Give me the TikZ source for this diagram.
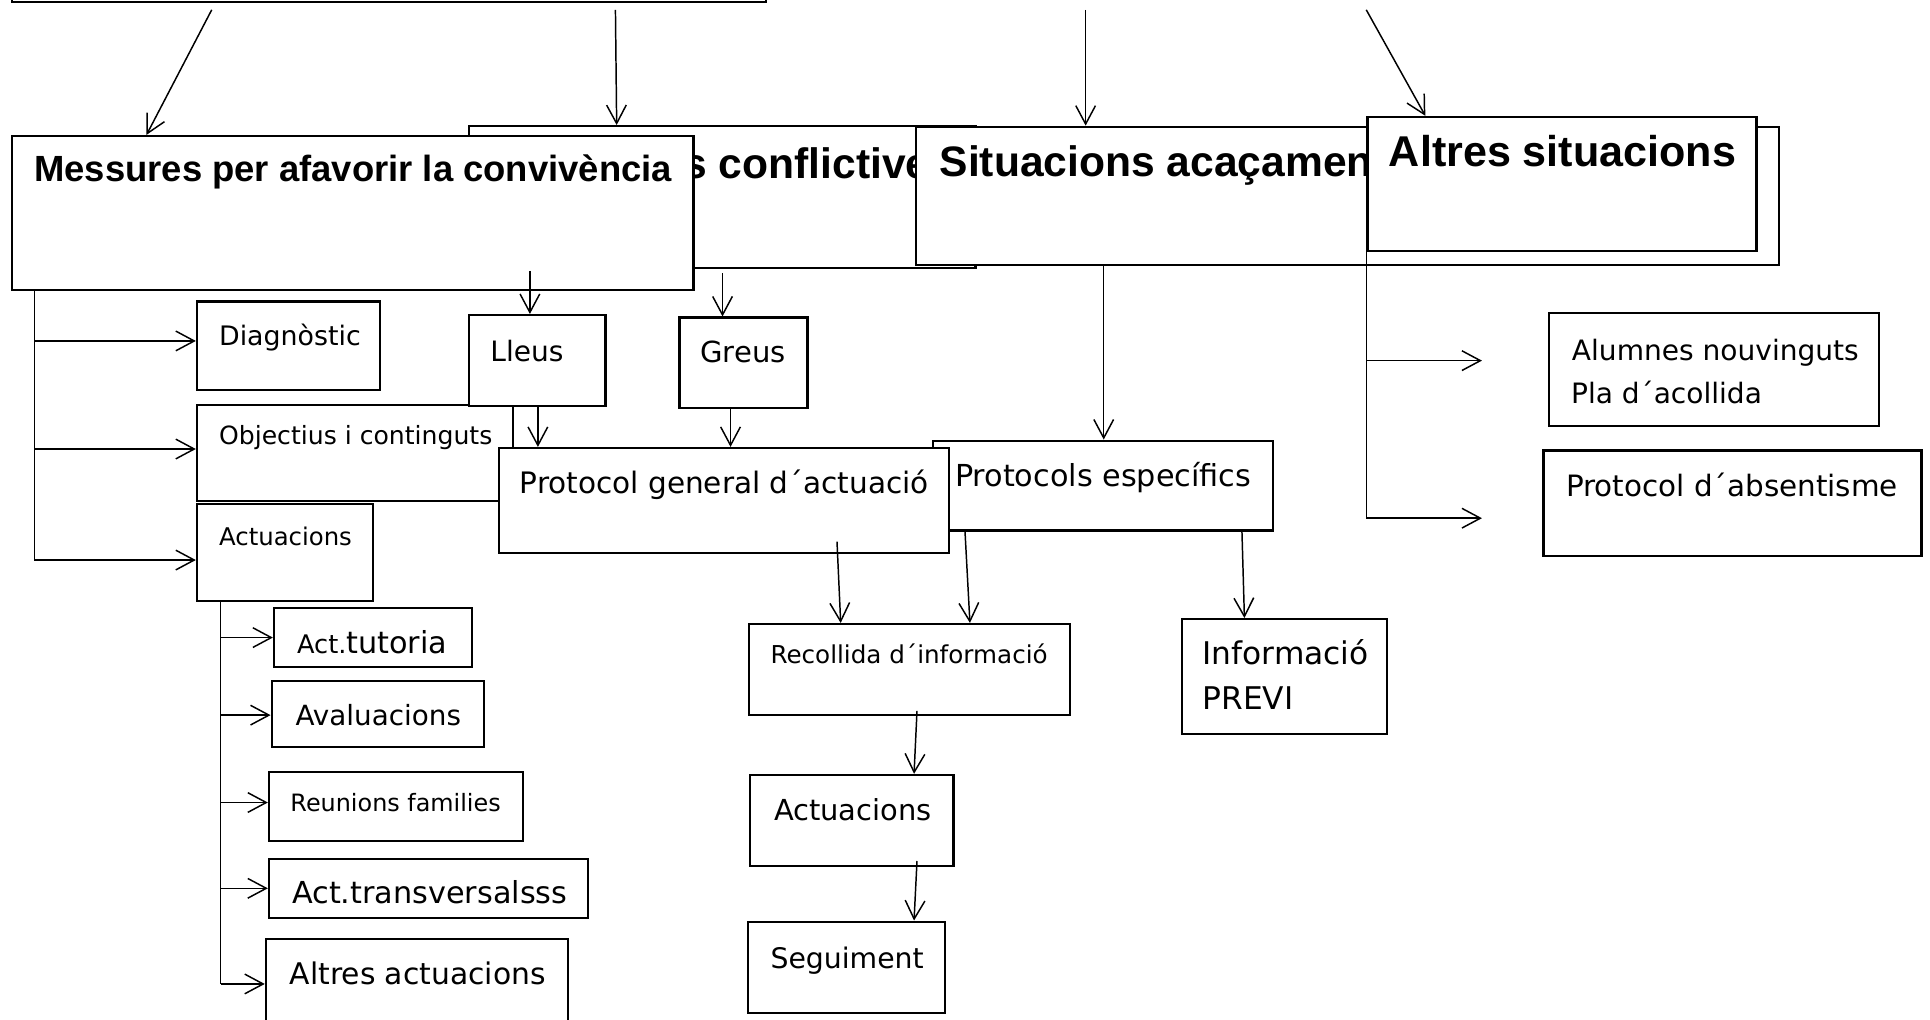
\documentclass[tikz,border=0pt]{standalone}
\usepackage{fontspec}
\setmainfont{DejaVu Sans}
\newfontfamily\hdfont{Liberation Sans}
\usetikzlibrary{arrows.meta,fit}

\tikzset{
	box/.style={draw, fill=white, line width=0.9pt, inner sep=0pt},
	txt/.style={anchor=base west, inner sep=0pt, font=\fontsize{#1}{#1}\selectfont},
	hd/.style={anchor=base west, inner sep=0pt, font=\hdfont\bfseries\fontsize{#1}{#1}\selectfont},
	lnk/.style={line width=0.6pt},
	>={Straight Barb[length=7.5pt,width=8pt]}
}

\begin{document}
\begin{tikzpicture}[x=0.5pt,y=-0.5pt]
			\useasboundingbox (0,0) rectangle (1568,828);
			\clip (0,0) rectangle (1568,828);
			\node[box, fit={(10,-60) (622,1.5)}] (top) {};
			\node[box, fit={(381,102.5) (792.5,218)}] (cnf) {};
			\node[hd=17.3] (cnf-t) at (554.8,145) {s conflictive};
			\node[box, fit={(744,103) (1445,215)}] (sit) {};
			\node[hd=17.3] (sit-t) at (763,143.5) {Situacions acaçament};
			\node[box, fit={(1111,95) (1427,204)}] (alt) {};
			\node[hd=17.5] (alt-t) at (1128,135.5) {Altres situacions};
			\node[box, fit={(9.5,110.5) (563.5,235.5)}] (msr) {};
			\node[hd=14.8] (msr-t) at (27.4,147.6) {Messures per afavorir la convivència};
			\node[box, fit={(160,245) (308.5,317)}] (diag) {};
			\node[txt=10.9] (diag-t) at (177.6,280.3) {Diagnòstic};
			\node[box, fit={(160,329) (417,407)}] (obj) {};
			\node[txt=10.2] (obj-t) at (177.6,361.5) {Objectius i continguts};
			\node[box, fit={(160,409.7) (303,488)}] (actl) {};
			\node[txt=9.9] (actl-t) at (177.6,442.8) {Actuacions};
			\node[box, fit={(381,256) (492,330)}] (lleus) {};
			\node[txt=11.4] (lleus-t) at (398,293.3) {Lleus};
			\node[box, fit={(552,258) (656,331.6)}] (greus) {};
			\node[txt=11.8] (greus-t) at (568.6,294.6) {Greus};
			\node[box, fit={(758,358) (1034,431)}] (pes) {};
			\node[txt=12.3] (pes-t) at (775.5,395.4) {Protocols específics};
			\node[box, fit={(405.5,364) (771,449)}] (pga) {};
			\node[txt=12] (pga-t) at (421.9,401) {Protocol general d´actuació};
			\node[box, fit={(1258.6,254.5) (1526.6,346)}] (alu) {};
			\node[txt=11.4] (alu-t1) at (1276.7,292.5) {Alumnes nouvinguts};
			\node[txt=11.4] (alu-t2) at (1276,328.2) {Pla d´acollida};
			\node[box, fit={(1254,366) (1561,451.7)}] (abs) {};
			\node[txt=11.95] (abs-t) at (1272,403.5) {Protocol d´absentisme};
			\node[box, fit={(608.5,507) (869,581)}] (rec) {};
			\node[txt=10] (rec-t) at (625.6,539.4) {Recollida d´informació};
			\node[box, fit={(960,503) (1127,596.3)}] (inf) {};
			\node[txt=12.7] (inf-t1) at (976.6,540.2) {Informació};
			\node[txt=12.7] (inf-t2) at (976.6,576.3) {PREVI};
			\node[box, fit={(609.6,629.6) (774.7,703.3)}] (acm) {};
			\node[txt=11.75] (acm-t) at (628.5,666.2) {Actuacions};
			\node[box, fit={(607.8,748.8) (768,823)}] (seg) {};
			\node[txt=11.5] (seg-t) at (625.6,786.7) {Seguiment};
			\node[box, fit={(222.6,494.2) (383.2,542.1)}] (tut) {};
			\node[txt=12.3] (tut-t) at (241,530.8) {{\fontsize{10.4}{10.4}\selectfont Act.}tutoria};
			\node[box, fit={(220.7,553) (393.2,607)}] (ava) {};
			\node[txt=11.3] (ava-t) at (239.7,589.8) {Avaluacions};
			\node[box, fit={(218.5,627) (424.6,683)}] (reu) {};
			\node[txt=9.7] (reu-t) at (235.6,658.9) {Reunions families};
			\node[box, fit={(218.5,698) (477.4,746)}] (trv) {};
			\node[txt=12.3] (trv-t) at (237,734.4) {Act.transversalsss};
			\node[box, fit={(216,763) (461.2,860)}] (alta) {};
			\node[txt=12.1] (alta-t) at (235,800) {Altres actuacions};
			% arrows
			\coordinate (t1) at (172,8);
			\coordinate (t2) at (500,8);
			\coordinate (t3) at (882,8);
			\coordinate (t4) at (1110,8);
			\draw[lnk,->] (t1) -- (119,0 |- msr.north);
			\draw[lnk,->] (t2) -- (501,0 |- cnf.north);
			\draw[lnk,->] (t3) -- (t3 |- sit.north);
			\draw[lnk,->] (t4) -- (1158,0 |- alt.north);
			\coordinate (m1) at (430.5,220);
			\coordinate (m2) at (587,222);
			\draw[lnk,->] (m1) -- (m1 |- lleus.north);
			\draw[lnk,->] (m2) -- (m2 |- greus.north);
			\draw[lnk,->] (437,0 |- lleus.south) -- (437,0 |- pga.north);
			\draw[lnk,->] (593.5,0 |- greus.south) -- (593.5,0 |- pga.north);
			\draw[lnk,->] (896.7,0 |- sit.south) -- (896.7,0 |- pes.north);
			\draw[lnk] (28,0 |- msr.south) -- (28,455);
			\foreach \y/\b in {277/diag,364.8/obj,455/actl}
				\draw[lnk,->] (28,\y) -- (\b.west |- 0,\y);
			\draw[lnk] (179.3,0 |- actl.south) -- (179.3,799.4);
			\foreach \y/\b in {518/tut,581/ava,652/reu,721.7/trv,799.4/alta}
				\draw[lnk,->] (179.3,\y) -- (\b.west |- 0,\y);
			\coordinate (r1) at (1204,293);
			\coordinate (r2) at (1204,421);
			\draw[lnk] (1110,0 |- alt.south) -- (1110,421);
			\draw[lnk,->] (1110,293) -- (r1);
			\draw[lnk,->] (1110,421) -- (r2);
			\coordinate (p1) at (680,440);
			\coordinate (p2) at (745,577.6);
			\coordinate (p3) at (745,699.5);
			\draw[lnk,->] (p1) -- (683,0 |- rec.north);
			\draw[lnk,->] (784,0 |- pes.south) -- (788,0 |- rec.north);
			\draw[lnk,->] (1009,0 |- pes.south) -- (1011,0 |- inf.north);
			\draw[lnk,->] (p2) -- (742.6,0 |- acm.north);
			\draw[lnk,->] (p3) -- (742.6,0 |- seg.north);
\end{tikzpicture}
\end{document}
